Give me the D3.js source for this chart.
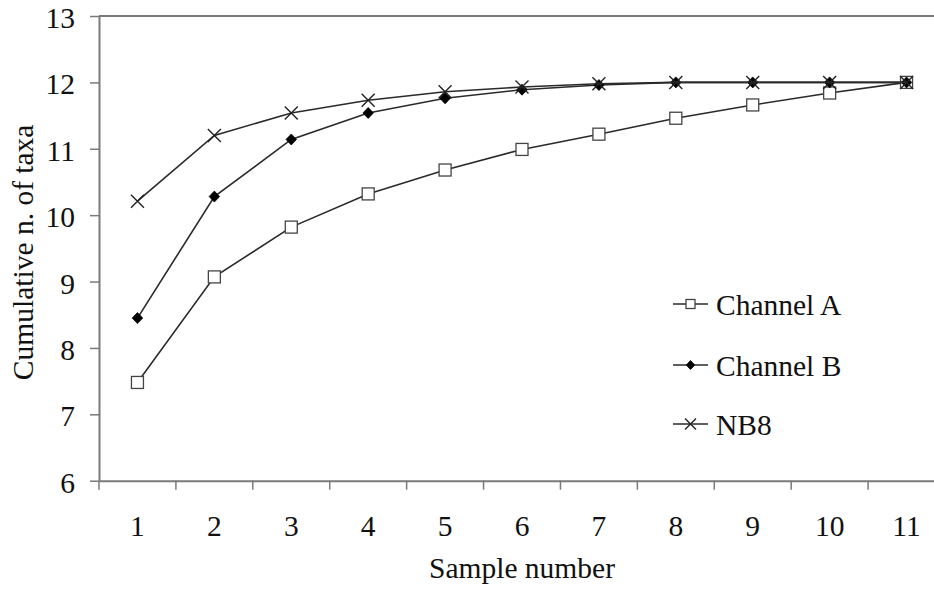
<!DOCTYPE html>
<html>
<head>
<meta charset="utf-8">
<script src="https://cdn.jsdelivr.net/npm/d3@7"></script>
<style>
  html, body { margin: 0; padding: 0; background: #fff; }
  svg { display: block; }
  text { font-family: "Liberation Serif", "Times New Roman", serif; fill: #111; }
</style>
</head>
<body>
<svg id="chart" width="934" height="593"></svg>
<script>
const categories = ["1","2","3","4","5","6","7","8","9","10","11"];
const channelA = [7.48, 9.07, 9.82, 10.32, 10.68, 10.99, 11.22, 11.46, 11.66, 11.84, 12.0];
const channelB = [8.45, 10.28, 11.14, 11.54, 11.76, 11.89, 11.96, 12.0, 12.0, 12.0, 12.0];
const nb8      = [10.21, 11.2, 11.54, 11.73, 11.86, 11.93, 11.98, 12.0, 12.0, 12.0, 12.0];
const yTicks = [6, 7, 8, 9, 10, 11, 12, 13];
const seriesNames = ["Channel A", "Channel B", "NB8"];
const xTitle = "Sample number";
const yTitle = "Cumulative n. of taxa";

const plotLeft = 99, plotRight = 945, plotTop = 16, plotBottom = 480.7;
const svg = d3.select("#chart");

const x = d3.scaleBand().domain(categories).range([plotLeft, plotRight]).paddingInner(0).paddingOuter(0);
const y = d3.scaleLinear().domain([6, 13]).range([plotBottom, plotTop]);

const axisColor = "#7a7a7a";
const fontSize = 29.5;
const fontFam = '"Liberation Serif", "Times New Roman", serif';

// top frame line
svg.append("line")
  .attr("x1", plotLeft).attr("x2", plotRight)
  .attr("y1", y(13)).attr("y2", y(13))
  .attr("stroke", axisColor).attr("stroke-width", 2);

// y axis
const yAxis = d3.axisLeft(y).tickValues(yTicks).tickSize(9).tickSizeOuter(0).tickFormat(d3.format("d"));
const gy = svg.append("g").attr("transform", `translate(${plotLeft},0)`).call(yAxis);
gy.select(".domain").attr("stroke", axisColor).attr("stroke-width", 2);
gy.selectAll(".tick line").attr("stroke", axisColor).attr("stroke-width", 1.5);
gy.selectAll(".tick text")
  .attr("x", -24).attr("dy", null).attr("y", 11.5)
  .style("font-size", fontSize + "px")
  .style("font-family", fontFam)
  .attr("fill", "#111");

// x axis (labels centered, ticks at band boundaries)
const xAxis = d3.axisBottom(x).tickSize(0).tickSizeOuter(0);
const gx = svg.append("g").attr("transform", `translate(0,${plotBottom})`).call(xAxis);
gx.select(".domain").attr("stroke", axisColor).attr("stroke-width", 2);
gx.selectAll(".tick text")
  .attr("y", 55).attr("dy", null)
  .style("font-size", fontSize + "px")
  .style("font-family", fontFam)
  .attr("fill", "#111");
const boundaries = categories.map(c => x(c));
svg.append("g").selectAll("line").data(boundaries).join("line")
  .attr("x1", d => d).attr("x2", d => d)
  .attr("y1", plotBottom).attr("y2", plotBottom + 9)
  .attr("stroke", axisColor).attr("stroke-width", 1.5);

// titles
svg.append("text")
  .attr("x", (plotLeft + plotRight) / 2).attr("y", 578)
  .attr("text-anchor", "middle")
  .style("font-size", fontSize + "px")
  .text(xTitle);
svg.append("text")
  .attr("transform", `translate(33,${(plotTop + plotBottom) / 2 + 4}) rotate(-90)`)
  .attr("text-anchor", "middle")
  .style("font-size", fontSize + "px")
  .text(yTitle);

// series
const cx = c => x(c) + x.bandwidth() / 2;
const line = d3.line().x(d => cx(d.c)).y(d => y(d.v));
const lineColor = "#2a2a2a";

function drawSquare(g, px, py, s) {
  g.append("rect").attr("x", px - s / 2).attr("y", py - s / 2).attr("width", s).attr("height", s)
    .attr("fill", "#fff").attr("stroke", "#444").attr("stroke-width", 1.3);
}
function drawDiamond(g, px, py, s) {
  const h = s / 2;
  g.append("path").attr("d", `M${px},${py - h}L${px + h * 0.95},${py}L${px},${py + h}L${px - h * 0.95},${py}Z`)
    .attr("fill", "#000").attr("stroke", "#000").attr("stroke-width", 0.8);
}
function drawX(g, px, py, s) {
  const h = s / 2;
  g.append("path").attr("d", `M${px - h},${py - h}L${px + h},${py + h}M${px - h},${py + h}L${px + h},${py - h}`)
    .attr("fill", "none").attr("stroke", "#222").attr("stroke-width", 1.4);
}

const series = [
  { name: seriesNames[0], values: channelA, marker: drawSquare, size: 12, lsize: 9 },
  { name: seriesNames[1], values: channelB, marker: drawDiamond, size: 11, lsize: 9 },
  { name: seriesNames[2], values: nb8, marker: drawX, size: 13, lsize: 11 }
];

series.forEach(s => {
  const data = categories.map((c, i) => ({ c, v: s.values[i] }));
  const g = svg.append("g");
  g.append("path").datum(data).attr("d", line)
    .attr("fill", "none").attr("stroke", lineColor).attr("stroke-width", 1.6);
  data.forEach(d => s.marker(g, cx(d.c), y(d.v), s.size));
});

// legend
const legendY = [304, 365, 424];
series.forEach((s, i) => {
  const g = svg.append("g");
  const ly = legendY[i];
  g.append("line").attr("x1", 673).attr("x2", 708).attr("y1", ly).attr("y2", ly)
    .attr("stroke", lineColor).attr("stroke-width", 1.6);
  s.marker(g, 690.5, ly, s.lsize);
  g.append("text").attr("x", 716).attr("y", ly + 11)
    .style("font-size", fontSize + "px").text(s.name);
});
</script>
</body>
</html>
